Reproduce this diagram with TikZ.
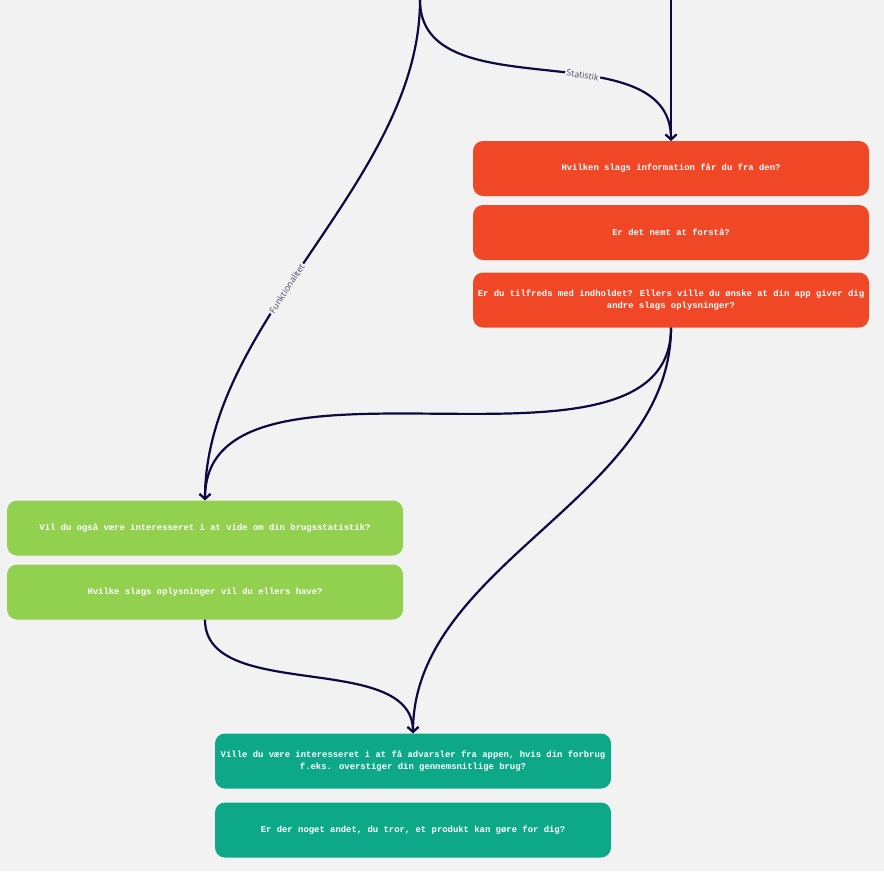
\documentclass[tikz,border=0pt]{standalone}
\usepackage{fontspec}
\setmainfont{Open Sans}
\newfontfamily\qfont{Liberation Mono}
\usetikzlibrary{positioning}
\usetikzlibrary{arrows.meta}
\definecolor{bgc}{HTML}{F2F2F2}
\definecolor{qred}{HTML}{F04826}
\definecolor{qgreen}{HTML}{92D050}
\definecolor{qteal}{HTML}{0DA888}
\definecolor{navy}{HTML}{0C0A3E}
\definecolor{lblc}{HTML}{4A4A68}
\tikzset{
    qbox/.style = {rectangle, rounded corners=10pt, draw=none, minimum width=396pt, minimum height=55pt, align=center, text=white, font=\qfont\bfseries\fontsize{8.9}{12}\selectfont},
    qboxr/.style = {qbox, fill=qred},
    qboxg/.style = {qbox, fill=qgreen},
    qboxt/.style = {qbox, fill=qteal},
    edgen/.style = {-{Straight Barb[length=5pt,width=11pt,line width=2pt]}, line width=2.2pt, navy},
    lbl/.style = {fill=bgc, inner sep=1.5pt, text=lblc, font=\fontsize{8.8}{10}\selectfont},
}
\begin{document}
\begin{tikzpicture}[x=1pt,y=1pt]
%
\fill[bgc] (0,0) rectangle (884,-871);
\useasboundingbox (0,0) rectangle (884,-871);
%
\coordinate (top1) at (420,0);
\coordinate (top2) at (671,0);
\node[qboxr] at (671,-168.5) (q1) {Hvilken slags information får du fra den?};
\node[qboxr] at (671,-232.5) (q2) {Er det nemt at forstå?};
\node[qboxr] at (671,-300) (q3) {Er du tilfreds med indholdet? Ellers ville du ønske at din app giver dig\\andre slags oplysninger?};
\node[qboxg] at (205,-528) (g1) {Vil du også være interesseret i at vide om din brugsstatistik?};
\node[qboxg] at (205,-592) (g2) {Hvilke slags oplysninger vil du ellers have?};
\node[qboxt] at (413,-761) (t1) {Ville du være interesseret i at få advarsler fra appen, hvis din forbrug\\f.eks. overstiger din gennemsnitlige brug?};
\node[qboxt] at (413,-830) (t2) {Er der noget andet, du tror, et produkt kan gøre for dig?};
%
\draw[edgen] (top1) to[out=-90,in=90,looseness=0.85] node[lbl,sloped,pos=0.58] {Funktionalitet} (g1.north);
\draw[edgen] (top1) to[out=-90,in=90,looseness=1.0] node[lbl,sloped,pos=0.6] {Statistik} (q1.north);
\draw[edgen] (top2) -- (q1.north);
\draw[edgen] (q3.south) to[out=-90,in=90,looseness=0.9] (g1.north);
\draw[edgen] (q3.south) to[out=-90,in=90,looseness=0.9] (t1.north);
\draw[edgen] (g2.south) to[out=-90,in=90,looseness=0.9] (t1.north);
\end{tikzpicture}
\end{document}
